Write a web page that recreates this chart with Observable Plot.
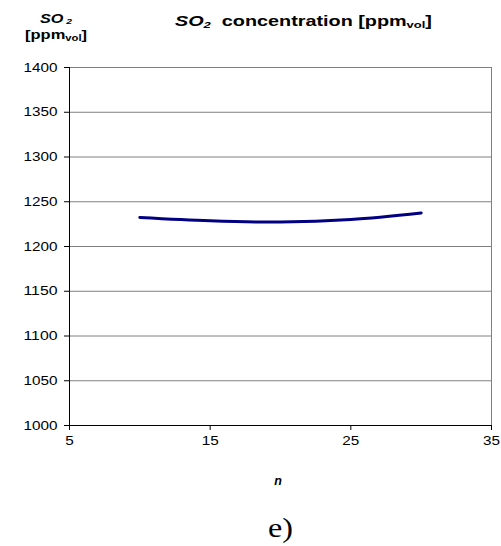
<!DOCTYPE html>
<html>
<head>
<meta charset="utf-8">
<script src="https://cdn.jsdelivr.net/npm/d3@7"></script>
<script src="https://cdn.jsdelivr.net/npm/@observablehq/plot@0.6"></script>
<style>
  html, body { margin: 0; padding: 0; background: #fff; }
  svg { display: block; }
</style>
</head>
<body>
<div id="wrap"></div>
<script>
const nValues = [10, 15, 20, 25, 30];
const so2Values = [1232.5, 1228.8, 1227.3, 1230.2, 1237.5];
const yTicks = [1000, 1050, 1100, 1150, 1200, 1250, 1300, 1350, 1400];
const xTicks = [5, 15, 25, 35];

const data = nValues.map((n, i) => ({n, v: so2Values[i]}));
const FONT = '"Liberation Sans", Arial, sans-serif';

const chart = Plot.plot({
  width: 501,
  height: 546,
  marginLeft: 69,
  marginRight: 10,
  marginTop: 67,
  marginBottom: 121,
  style: {fontFamily: FONT, fontSize: "12.5px", color: "#000", background: "#fff"},
  x: {domain: [5, 35], label: null},
  y: {domain: [1000, 1400], label: null},
  marks: [
    Plot.gridY(yTicks, {stroke: "#808080", strokeOpacity: 1, strokeWidth: 1}),
    Plot.ruleX([35], {stroke: "#808080", strokeWidth: 1}),
    Plot.ruleX([5], {stroke: "#000", strokeWidth: 1}),
    Plot.ruleY([1000], {stroke: "#000", strokeWidth: 1}),
    Plot.axisY({ticks: yTicks, tickSize: 5, tickPadding: 7, tickFormat: "d", fontSize: 12.5}),
    Plot.axisX({ticks: xTicks, tickSize: 5, tickPadding: 6, tickFormat: "d", fontSize: 12.5}),
    Plot.line(data, {x: "n", y: "v", stroke: "#000080", strokeWidth: 3, curve: "catmull-rom"})
  ]
});

document.getElementById("wrap").appendChild(chart);

const svg = d3.select(chart);
// widen tick labels to match the reference's wide glyphs
svg.selectAll("g[aria-label='y-axis tick label'] text, g[aria-label='x-axis tick label'] text").each(function() {
  const t = d3.select(this);
  const s = t.text();
  t.attr("textLength", s.length * 8.5).attr("lengthAdjust", "spacingAndGlyphs");
});

const ann = svg.append("g").attr("font-family", FONT).attr("fill", "#000").attr("text-anchor", "start");

// Title
const title = ann.append("text").attr("x", 175).attr("y", 26).attr("font-size", 14.5).attr("font-weight", "bold")
  .attr("textLength", 257).attr("lengthAdjust", "spacingAndGlyphs");
title.append("tspan").attr("font-style", "italic").text("SO");
title.append("tspan").attr("font-style", "italic").attr("font-size", 9.5).attr("dy", 2).text("2");
title.append("tspan").attr("dy", -2).text("\u00a0 concentration [ppm");
title.append("tspan").attr("font-size", 9.5).attr("dy", 2).text("vol");
title.append("tspan").attr("dy", -2).text("]");

// Y axis title
const yt1 = ann.append("text").attr("x", 40).attr("y", 23).attr("font-size", 12.5).attr("font-weight", "bold")
  .attr("textLength", 32).attr("lengthAdjust", "spacingAndGlyphs");
yt1.append("tspan").attr("font-style", "italic").text("SO");
yt1.append("tspan").attr("font-style", "italic").attr("font-size", 8).attr("dy", 1).text("\u00a02");

const yt2 = ann.append("text").attr("x", 25).attr("y", 39).attr("font-size", 12.5).attr("font-weight", "bold")
  .attr("textLength", 62).attr("lengthAdjust", "spacingAndGlyphs");
yt2.append("tspan").text("[ppm");
yt2.append("tspan").attr("font-size", 8.5).attr("dy", 2).text("vol");
yt2.append("tspan").attr("dy", -2).text("]");

// X axis title
ann.append("text").attr("x", 278).attr("y", 485).attr("text-anchor", "middle")
  .attr("font-size", 12.5).attr("font-weight", "bold").attr("font-style", "italic").text("n");

// Panel label
ann.append("text").attr("x", 268).attr("y", 537).attr("font-size", 28)
  .attr("font-family", '"Liberation Serif", "Times New Roman", serif')
  .attr("textLength", 25).attr("lengthAdjust", "spacingAndGlyphs").text("e)");
</script>
</body>
</html>
